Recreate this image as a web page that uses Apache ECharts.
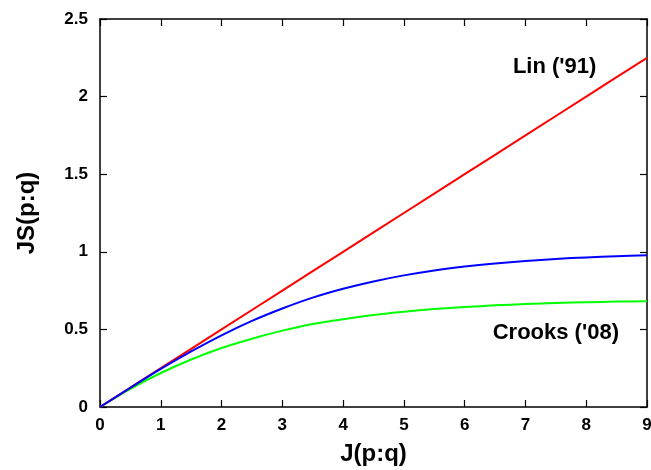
<!DOCTYPE html>
<html>
<head>
<meta charset="utf-8">
<script src="https://cdn.jsdelivr.net/npm/echarts@6/dist/echarts.min.js"></script>
<style>html,body{margin:0;padding:0;background:#fff;}#c{width:651px;height:470px;}</style>
</head>
<body>
<div id="c"></div>
<script>
const xs = [0,0.5,1,1.5,2,2.5,3,3.5,4,4.5,5,5.5,6,6.5,7,7.5,8,8.5,9];
const linValues = [0,0.125,0.25,0.375,0.5,0.625,0.75,0.875,1,1.125,1.25,1.375,1.5,1.625,1.75,1.875,2,2.125,2.25];
const blueValues = [0,0.124,0.245,0.358,0.462,0.555,0.635,0.705,0.762,0.809,0.848,0.88,0.905,0.925,0.941,0.954,0.964,0.972,0.978];
const crooksValues = [0,0.117,0.219,0.306,0.38,0.44,0.492,0.535,0.566,0.593,0.614,0.631,0.644,0.655,0.663,0.67,0.675,0.679,0.682];
const xTicks = [0,1,2,3,4,5,6,7,8,9];
const yTicks = [0,0.5,1,1.5,2,2.5];
const annotations = [
  {name: "Lin ('91)", x: 7.48, y: 2.19},
  {name: "Crooks ('08)", x: 7.5, y: 0.477}
];

const pair = (a, b) => a.map((v, i) => [v, b[i]]);
const font = 'Liberation Sans, Arial, Helvetica, sans-serif';
const axisLine = {show: true, onZero: false, lineStyle: {color: '#000', width: 1.5}};
const tick = {show: true, inside: true, length: 7, lineStyle: {color: '#000', width: 1.2}};

const chart = echarts.init(document.getElementById('c'));
chart.setOption({
  animation: false,
  backgroundColor: '#fff',
  grid: {left: 100, right: 4, top: 19, bottom: 63, containLabel: false, outerBoundsMode: 'none'},
  xAxis: [{
    type: 'value', min: 0, max: 9, interval: 1, position: 'bottom',
    name: 'J(p:q)', nameLocation: 'middle', nameGap: 35,
    nameTextStyle: {fontFamily: font, fontWeight: 'bold', fontSize: 24, color: '#000'},
    axisLine, axisTick: tick, splitLine: {show: false},
    axisLabel: {fontFamily: font, fontWeight: 'bold', fontSize: 17, color: '#000', margin: 10,
      formatter: v => xTicks.includes(v) ? String(v) : ''}
  }, {
    type: 'value', min: 0, max: 9, interval: 1, position: 'top',
    axisLine, axisTick: tick, splitLine: {show: false}, axisLabel: {show: false}
  }],
  yAxis: [{
    type: 'value', min: 0, max: 2.5, interval: 0.5, position: 'left',
    name: 'JS(p:q)', nameLocation: 'middle', nameGap: 61, nameRotate: 90,
    nameTextStyle: {fontFamily: font, fontWeight: 'bold', fontSize: 24, color: '#000'},
    axisLine, axisTick: tick, splitLine: {show: false},
    axisLabel: {fontFamily: font, fontWeight: 'bold', fontSize: 17, color: '#000', margin: 12,
      formatter: v => yTicks.includes(v) ? String(v) : ''}
  }, {
    type: 'value', min: 0, max: 2.5, interval: 0.5, position: 'right',
    axisLine, axisTick: tick, splitLine: {show: false}, axisLabel: {show: false}
  }],
  series: [
    {type: 'line', name: "Lin ('91)", data: pair(xs, linValues), showSymbol: false, smooth: false,
      lineStyle: {color: '#ff0000', width: 2}, z: 3},
    {type: 'line', name: 'blue', data: pair(xs, blueValues), showSymbol: false, smooth: 0.3,
      lineStyle: {color: '#0000ff', width: 2}, z: 4},
    {type: 'line', name: "Crooks ('08)", data: pair(xs, crooksValues), showSymbol: false, smooth: 0.3,
      lineStyle: {color: '#00ff00', width: 2}, z: 2},
    {type: 'scatter', symbolSize: 1, silent: true,
      itemStyle: {opacity: 1, color: 'rgba(0,0,0,0)'},
      data: annotations.map(a => ({name: a.name, value: [a.x, a.y]})),
      label: {show: true, position: 'inside', formatter: p => p.name, opacity: 1,
        textBorderWidth: 0, fontFamily: font, fontWeight: 'bold', fontSize: 22, color: '#000'}}
  ]
});
</script>
</body>
</html>
